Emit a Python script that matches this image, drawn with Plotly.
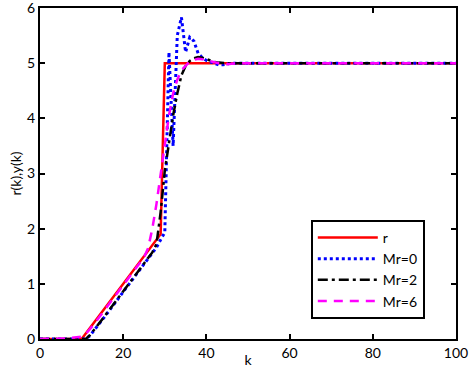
import plotly.graph_objects as go

k = list(range(0, 101))

r = [
    0, 0, 0, 0, 0, 0, 0, 0, 0, 0,
    0, 0.1, 0.2, 0.3, 0.4, 0.5, 0.6, 0.7, 0.8, 0.9,
    1.0, 1.1, 1.2, 1.3, 1.4, 1.5, 1.6, 1.7, 1.8, 1.9,
    5, 5, 5, 5, 5, 5, 5, 5, 5, 5,
    5, 5, 5, 5, 5, 5, 5, 5, 5, 5,
    5, 5, 5, 5, 5, 5, 5, 5, 5, 5,
    5, 5, 5, 5, 5, 5, 5, 5, 5, 5,
    5, 5, 5, 5, 5, 5, 5, 5, 5, 5,
    5, 5, 5, 5, 5, 5, 5, 5, 5, 5,
    5, 5, 5, 5, 5, 5, 5, 5, 5, 5,
    5,
]

y_mr0 = [
    0, 0, 0, 0, 0, 0, 0, 0, 0, 0,
    0, 0, 0.06, 0.15, 0.25, 0.35, 0.45, 0.55, 0.65, 0.75,
    0.85, 0.95, 1.05, 1.15, 1.25, 1.35, 1.45, 1.55, 1.66, 1.8,
    1.93, 5.2, 3.5, 5.5, 5.83, 5.2, 5.47, 5.4, 5.18, 5.1,
    5.05, 5.02, 5.0, 4.97, 4.97, 4.99, 5, 5, 5, 5,
    5, 5, 5, 5, 5, 5, 5, 5, 5, 5,
    5, 5, 5, 5, 5, 5, 5, 5, 5, 5,
    5, 5, 5, 5, 5, 5, 5, 5, 5, 5,
    5, 5, 5, 5, 5, 5, 5, 5, 5, 5,
    5, 5, 5, 5, 5, 5, 5, 5, 5, 5,
    5,
]

y_mr2 = [
    0, 0, 0, 0, 0, 0, 0, 0, 0, 0,
    0, 0, 0.07, 0.16, 0.26, 0.36, 0.46, 0.56, 0.66, 0.76,
    0.86, 0.96, 1.06, 1.16, 1.26, 1.36, 1.46, 1.57, 1.72, 2.3,
    3.05, 3.6, 4.05, 4.45, 4.78, 4.95, 5.04, 5.09, 5.11, 5.1,
    5.07, 5.04, 5.02, 5.01, 5, 5, 5, 5, 5, 5,
    5, 5, 5, 5, 5, 5, 5, 5, 5, 5,
    5, 5, 5, 5, 5, 5, 5, 5, 5, 5,
    5, 5, 5, 5, 5, 5, 5, 5, 5, 5,
    5, 5, 5, 5, 5, 5, 5, 5, 5, 5,
    5, 5, 5, 5, 5, 5, 5, 5, 5, 5,
    5,
]

y_mr6 = [
    0, 0, 0, 0, 0, 0.01, 0.01, 0.02, 0.03, 0.03,
    0.04, 0.09, 0.17, 0.27, 0.37, 0.47, 0.57, 0.67, 0.77, 0.87,
    0.97, 1.07, 1.17, 1.27, 1.37, 1.48, 1.65, 2.0, 2.45, 3.0,
    3.55, 4.05, 4.45, 4.7, 4.87, 4.96, 5.03, 5.06, 5.08, 5.07,
    5.05, 5.03, 5.01, 5.0, 4.99, 4.98, 4.99, 5, 5, 5,
    5, 5, 5, 5, 5, 5, 5, 5, 5, 5,
    5, 5, 5, 5, 5, 5, 5, 5, 5, 5,
    5, 5, 5, 5, 5, 5, 5, 5, 5, 5,
    5, 5, 5, 5, 5, 5, 5, 5, 5, 5,
    5, 5, 5, 5, 5, 5, 5, 5, 5, 5,
    5,
]

series_names = ["r", "Mr=0", "Mr=2", "Mr=6"]
x_ticks = [0, 20, 40, 60, 80, 100]
y_ticks = [0, 1, 2, 3, 4, 5, 6]

FONT = "Lato"

fig = go.Figure()
fig.add_trace(go.Scatter(x=k, y=r, mode="lines", name=series_names[0],
                         line=dict(color="#ff0000", width=2.5)))
fig.add_trace(go.Scatter(x=k, y=y_mr0, mode="lines", name=series_names[1],
                         line=dict(color="#0000ff", width=3, dash="3px,3px")))
fig.add_trace(go.Scatter(x=k, y=y_mr2, mode="lines", name=series_names[2],
                         line=dict(color="#000000", width=2.5, dash="10px,4px,3px,4px")))
fig.add_trace(go.Scatter(x=k, y=y_mr6, mode="lines", name=series_names[3],
                         line=dict(color="#ff00ff", width=2.5, dash="9px,7px")))

axis_common = dict(
    showgrid=False, zeroline=False,
    showline=True, linecolor="black", linewidth=2,
    mirror="ticks", ticks="inside", ticklen=5, tickwidth=2, tickcolor="black",
    tickfont=dict(family=FONT, size=14, color="black"),
    layer="below traces",
    automargin=False,
    ticklabeloverflow="allow",
)

fig.update_layout(
    width=472, height=368,
    margin=dict(l=40, r=16, t=8, b=29),
    plot_bgcolor="white", paper_bgcolor="white",
    font=dict(family=FONT, size=14, color="black"),
    xaxis=dict(range=[0, 100], tickvals=x_ticks,
               title=dict(text="k", font=dict(family=FONT, size=14), standoff=0),
               **axis_common),
    yaxis=dict(range=[0, 6], tickvals=y_ticks,
               title=dict(text="r(k),y(k)", font=dict(family=FONT, size=14), standoff=2),
               **axis_common),
    legend=dict(x=0.925, y=0.36, xanchor="right", yanchor="top",
                bgcolor="white", bordercolor="black", borderwidth=2,
                font=dict(family=FONT, size=14, color="black"),
                itemwidth=60, tracegroupgap=4),
    showlegend=True,
)

fig.write_html("out.html",
               config={"displayModeBar": False},
               post_script="document.body.style.margin='0';document.body.style.padding='0';")
